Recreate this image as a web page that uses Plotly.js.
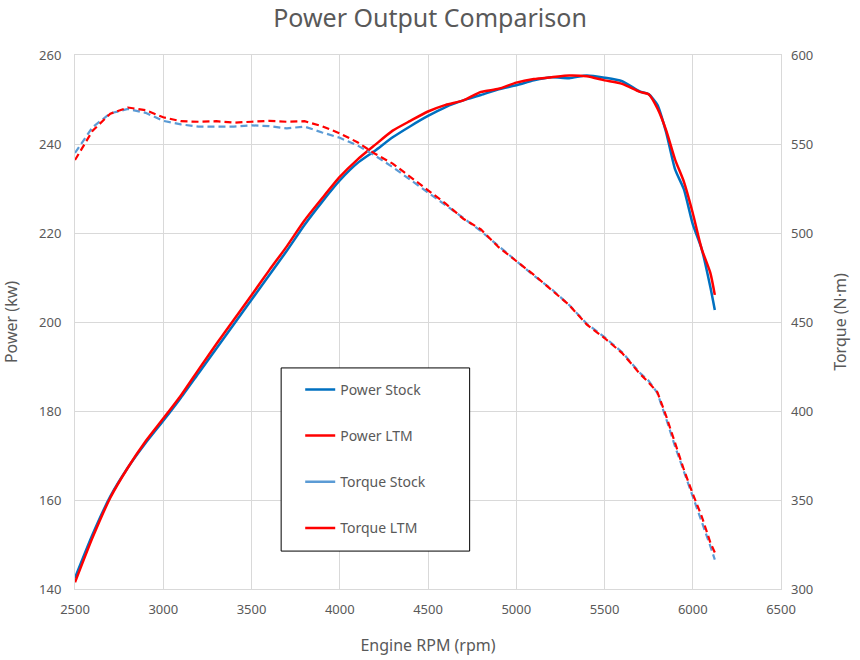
<!DOCTYPE html>
<html>
<head>
<meta charset="utf-8">
<script src="https://cdn.plot.ly/plotly-3.0.1.min.js"></script>
<style>
  body { margin: 0; background: #fff; }
  #chart { width: 860px; height: 660px; }
</style>
</head>
<body>
<div id="chart"></div>
<script>
var rpm = [2500, 2600, 2700, 2800, 2900, 3000, 3100, 3200, 3300, 3400,
           3500, 3600, 3700, 3800, 3900, 4000, 4100, 4200, 4300, 4400,
           4500, 4600, 4700, 4800, 4900, 5000, 5100, 5200, 5300, 5400,
           5500, 5600, 5700, 5750, 5800, 5850, 5900, 5950, 6000, 6050,
           6100, 6125];

var powerStock = [142.5, 152.3, 160.8, 167.3, 172.8, 177.8, 183.0, 188.5, 194.0, 199.5,
                  205.0, 210.5, 216.0, 221.8, 227.0, 231.8, 235.7, 238.5, 241.5, 244.0,
                  246.3, 248.3, 249.8, 251.0, 252.3, 253.2, 254.3, 255.0, 254.8, 255.4,
                  254.9, 254.1, 251.8, 251.2, 248.8, 242.5, 234.3, 229.8, 222.0, 216.5,
                  207.8, 202.7];

var powerLTM = [141.5, 151.6, 160.5, 167.3, 173.2, 178.3, 183.5, 189.3, 195.0, 200.5,
                206.0, 211.6, 217.0, 222.8, 227.8, 232.6, 236.5, 239.8, 243.0, 245.2,
                247.3, 248.8, 249.8, 251.7, 252.4, 253.8, 254.6, 255.0, 255.4, 255.2,
                254.3, 253.5, 251.7, 251.2, 248.0, 243.0, 236.5, 231.5, 224.5, 216.5,
                211.0, 206.1];

var torqueStock = [545.0, 559.5, 567.2, 569.7, 567.5, 563.0, 561.0, 559.8, 559.7, 559.8,
                   560.5, 560.0, 558.8, 559.8, 556.5, 553.5, 549.2, 543.5, 537.0, 530.0,
                   523.0, 516.0, 508.5, 501.0, 492.5, 484.0, 476.0, 468.5, 459.5, 449.0,
                   441.5, 433.0, 421.5, 417.0, 410.0, 395.5, 380.0, 366.0, 352.0, 339.0,
                   324.0, 316.5];

var torqueLTM = [541.0, 557.5, 567.0, 570.5, 569.0, 565.0, 562.8, 562.5, 562.8, 562.0,
                 562.5, 563.0, 562.5, 562.8, 560.0, 556.0, 551.0, 544.5, 539.0, 531.5,
                 524.0, 516.5, 508.0, 502.0, 492.0, 484.5, 476.5, 468.0, 459.5, 448.5,
                 441.0, 432.5, 421.0, 416.0, 410.5, 397.0, 381.5, 367.0, 353.5, 341.0,
                 326.0, 320.5];

var names = ['Power Stock', 'Power LTM', 'Torque Stock', 'Torque LTM'];
var colors = ['#0070C0', '#FF0000', '#5B9BD5', '#FF0000'];

var trace1 = {
  x: rpm, y: powerStock, name: names[0], type: 'scatter', mode: 'lines',
  line: {color: colors[0], width: 2.5, shape: 'spline', smoothing: 0.6},
  legendgroup: 'a', legendrank: 1
};
var trace2 = {
  x: rpm, y: powerLTM, name: names[1], type: 'scatter', mode: 'lines',
  line: {color: colors[1], width: 2.5, shape: 'spline', smoothing: 0.6},
  legendgroup: 'b', legendrank: 2
};
var trace3 = {
  x: rpm, y: torqueStock, name: names[2], type: 'scatter', mode: 'lines', yaxis: 'y2',
  line: {color: colors[2], width: 2.2, dash: '7px,4px'},
  showlegend: false
};
var trace4 = {
  x: rpm, y: torqueLTM, name: names[3], type: 'scatter', mode: 'lines', yaxis: 'y2',
  line: {color: colors[3], width: 2.2, dash: '7px,4px'},
  showlegend: false
};
// legend shows torque as solid lines, like the original
var trace5 = {
  x: [null], y: [null], name: names[2], type: 'scatter', mode: 'lines', yaxis: 'y2',
  line: {color: colors[2], width: 2.5},
  legendgroup: 'c', legendrank: 3
};
var trace6 = {
  x: [null], y: [null], name: names[3], type: 'scatter', mode: 'lines', yaxis: 'y2',
  line: {color: colors[3], width: 2.5},
  legendgroup: 'd', legendrank: 4
};

var data = [trace1, trace2, trace3, trace4, trace5, trace6];

var tickFont = {family: 'Noto Sans, sans-serif', size: 13, color: '#595959'};
var titleFont = {family: 'Noto Sans, sans-serif', size: 16, color: '#595959'};

var layout = {
  width: 860,
  height: 660,
  margin: {l: 75, r: 79, t: 55, b: 71},
  paper_bgcolor: '#ffffff',
  plot_bgcolor: '#ffffff',
  title: {
    text: 'Power Output Comparison',
    font: {family: 'Noto Sans, sans-serif', size: 25, color: '#595959'},
    x: 0.5, xanchor: 'center', y: 0.973, yanchor: 'middle'
  },
  xaxis: {
    range: [2500, 6500],
    dtick: 500,
    showgrid: true,
    gridcolor: '#d9d9d9',
    showline: true,
    linecolor: '#d9d9d9',
    mirror: true,
    zeroline: false,
    ticks: '',
    ticklabelstandoff: 8,
    tickfont: tickFont,
    title: {text: 'Engine RPM (rpm)', font: titleFont, standoff: 23}
  },
  yaxis: {
    range: [140, 260],
    dtick: 20,
    showgrid: true,
    gridcolor: '#d9d9d9',
    showline: true,
    linecolor: '#d9d9d9',
    mirror: true,
    zeroline: false,
    ticks: '',
    ticklabelstandoff: 10,
    tickfont: tickFont,
    title: {text: 'Power (kw)', font: titleFont, standoff: 20}
  },
  yaxis2: {
    range: [300, 600],
    dtick: 50,
    overlaying: 'y',
    side: 'right',
    showgrid: false,
    zeroline: false,
    ticks: '',
    ticklabelstandoff: 9,
    tickfont: tickFont,
    title: {text: 'Torque (N·m)', font: titleFont, standoff: 22}
  },
  showlegend: true,
  legend: {
    x: 0.319, y: 0.403, xanchor: 'left', yanchor: 'top',
    bgcolor: 'rgba(0,0,0,0)',
    borderwidth: 0,
    traceorder: 'grouped',
    tracegroupgap: 25,
    font: {family: 'Noto Sans, sans-serif', size: 14, color: '#595959'}
  },
  shapes: [{
    type: 'rect', xref: 'paper', yref: 'paper', layer: 'above',
    x0: 0.292, x1: 0.559, y0: 0.071, y1: 0.414,
    fillcolor: '#ffffff',
    line: {color: '#000000', width: 1}
  }]
};

var config = {displayModeBar: false, responsive: false};

Plotly.newPlot('chart', data, layout, config);
</script>
</body>
</html>
